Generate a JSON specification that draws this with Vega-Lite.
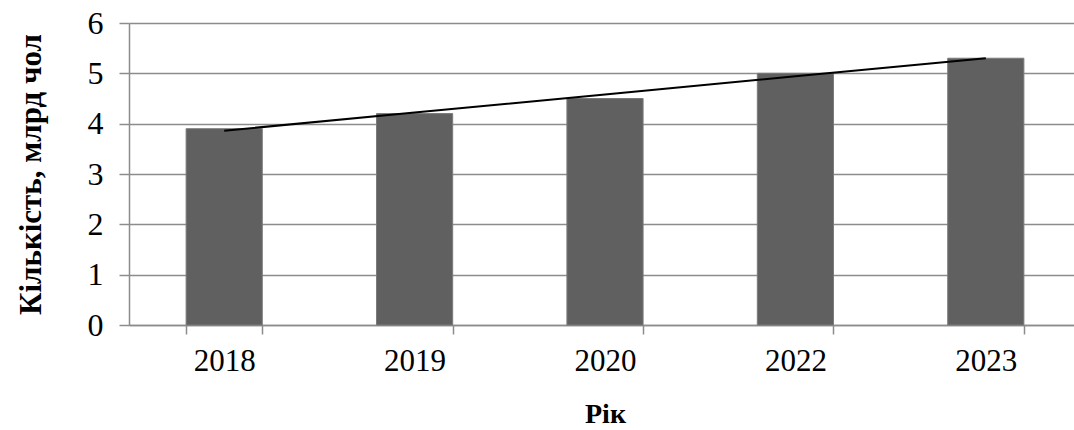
{
  "$schema": "https://vega.github.io/schema/vega-lite/v6.json",
  "autosize": "none",
  "width": 945,
  "height": 302,
  "padding": {"left": 129, "top": 23, "right": 0, "bottom": 105},
  "background": "white",
  "config": {
    "view": {"stroke": null},
    "font": "Liberation Serif",
    "axis": {
      "labelFont": "Liberation Serif",
      "titleFont": "Liberation Serif",
      "labelColor": "black",
      "titleColor": "black",
      "domainColor": "#8c8c8c",
      "tickColor": "#8c8c8c",
      "gridColor": "#8c8c8c",
      "domainWidth": 1.5,
      "tickWidth": 1.5,
      "gridWidth": 1.5
    }
  },
  "data": {
    "values": [
      {"year": "2018", "value": 3.9, "trend": 3.86},
      {"year": "2019", "value": 4.2, "trend": 4.22},
      {"year": "2020", "value": 4.5, "trend": 4.58},
      {"year": "2022", "value": 5.0, "trend": 4.94},
      {"year": "2023", "value": 5.3, "trend": 5.30}
    ]
  },
  "encoding": {
    "x": {
      "field": "year",
      "type": "nominal",
      "sort": null,
      "scale": {"range": [0, 952], "paddingInner": 0.6, "paddingOuter": 0.3},
      "axis": {
        "title": "Рік",
        "titleFontSize": 28,
        "titleFontWeight": "bold",
        "titlePadding": 24,
        "labelFontSize": 31,
        "labelAngle": 0,
        "labelPadding": 12,
        "tickBand": "extent",
        "tickSize": 9,
        "grid": false
      }
    }
  },
  "layer": [
    {
      "mark": {"type": "bar", "color": "#606060", "stroke": "#7a7a7a", "strokeWidth": 1},
      "encoding": {
        "y": {
          "field": "value",
          "type": "quantitative",
          "scale": {"domain": [0, 6]},
          "axis": {
            "title": "Кількість, млрд чол",
            "titleFontSize": 31,
            "titleFontWeight": "bold",
            "titlePadding": 40,
            "labelFontSize": 32,
            "labelPadding": 16,
            "labelOverlap": false,
            "values": [0, 1, 2, 3, 4, 5, 6],
            "tickSize": 10,
            "grid": true,
            "gridColor": "#8c8c8c"
          }
        }
      }
    },
    {
      "mark": {"type": "line", "color": "black", "strokeWidth": 2},
      "encoding": {
        "y": {"field": "trend", "type": "quantitative"}
      }
    }
  ]
}
